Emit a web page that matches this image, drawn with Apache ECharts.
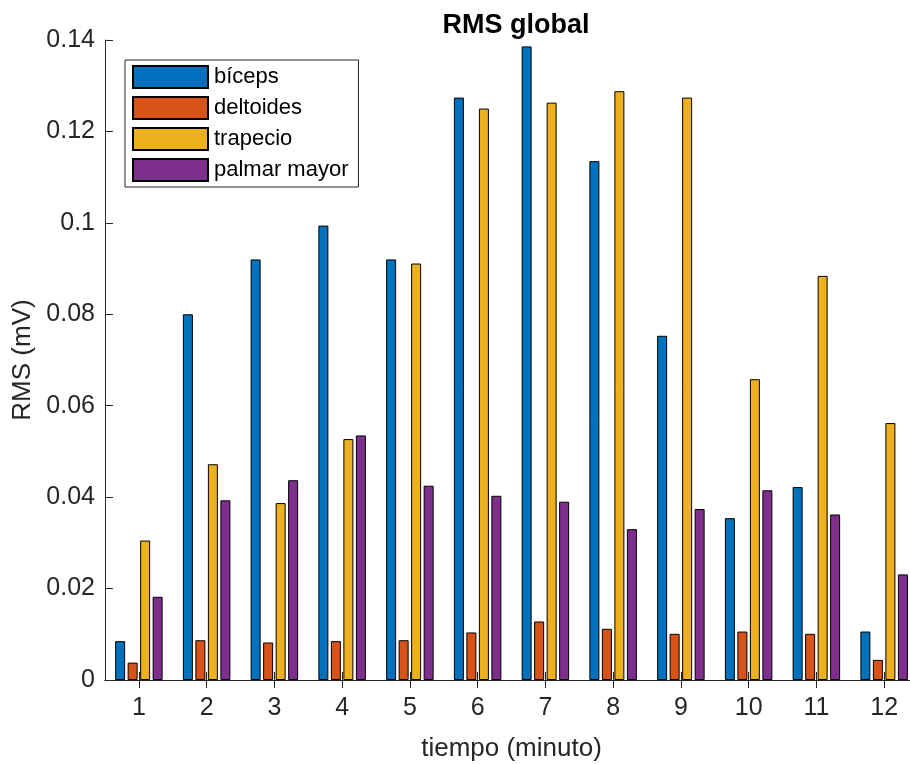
<!DOCTYPE html>
<html>
<head>
<meta charset="utf-8">
<script src="https://cdn.jsdelivr.net/npm/echarts@6/dist/echarts.min.js"></script>
<style>html,body{margin:0;padding:0;background:#fff}#c{width:910px;height:764px}</style>
</head>
<body>
<div id="c"></div>
<script>
const categories = ['1','2','3','4','5','6','7','8','9','10','11','12'];
const seriesNames = ['bíceps','deltoides','trapecio','palmar mayor'];
const biceps = [0.0085,0.0800,0.0920,0.0994,0.0920,0.1274,0.1386,0.1135,0.0753,0.0354,0.0422,0.0106];
const deltoides = [0.0038,0.0087,0.0082,0.0085,0.0087,0.0104,0.0128,0.0112,0.0101,0.0106,0.0101,0.0044];
const trapecio = [0.0305,0.0472,0.0387,0.0527,0.0911,0.1250,0.1263,0.1288,0.1274,0.0658,0.0884,0.0562];
const palmarMayor = [0.0182,0.0393,0.0437,0.0535,0.0425,0.0403,0.0390,0.0330,0.0374,0.0415,0.0362,0.0231];
const yTicks = [0,0.02,0.04,0.06,0.08,0.1,0.12,0.14];
const colors = ['#0072BD','#D95319','#EDB120','#7E2F8E'];
const values = [biceps, deltoides, trapecio, palmarMayor];

const FONT = "'Liberation Sans', Arial, sans-serif";
const AX = '#262626';
const chart = echarts.init(document.getElementById('c'), null, {renderer:'canvas'});
chart.setOption({
  animation:false,
  backgroundColor:'#fff',
  title:{text:'RMS global', left:511, top:7, textAlign:'center',
    textStyle:{fontFamily:FONT, fontSize:27, fontWeight:'bold', color:'#000'}},
  legend:{
    left:125, top:60, orient:'vertical',
    data:seriesNames,
    icon:'rect', itemWidth:75, itemHeight:22, itemGap:7,
    padding:[5,10,5,7],
    backgroundColor:'#fff', borderColor:'#262626', borderWidth:1, borderRadius:0,
    textStyle:{fontFamily:FONT, fontSize:22, lineHeight:21, color:'#000', padding:[0,0,0,1]}
  },
  grid:{left:105, top:40, width:813, height:640, containLabel:false, outerBoundsMode:'none'},
  xAxis:[{
    type:'category', data:categories, position:'bottom',
    name:'tiempo (minuto)', nameLocation:'middle', nameGap:56,
    nameTextStyle:{fontFamily:FONT, fontSize:26, color:'#262626'},
    axisLine:{show:true, lineStyle:{color:AX, width:1}},
    axisTick:{show:true, inside:true, length:8, alignWithLabel:true, lineStyle:{color:AX}},
    axisLabel:{fontFamily:FONT, fontSize:25, color:'#262626', margin:16},
    splitLine:{show:false}
  },{
    type:'category', data:categories, position:'top',
    axisLine:{show:true, lineStyle:{color:AX, width:1}},
    axisTick:{show:true, inside:true, length:8, alignWithLabel:true, lineStyle:{color:AX}},
    axisLabel:{show:false}, splitLine:{show:false}
  }],
  yAxis:[{
    type:'value', min:0, max:0.14, interval:0.02, position:'left',
    name:'RMS (mV)', nameLocation:'middle', nameGap:68, nameRotate:90,
    nameTextStyle:{fontFamily:FONT, fontSize:26, color:'#262626'},
    axisLine:{show:true, lineStyle:{color:AX, width:1}},
    axisTick:{show:true, inside:true, length:8, lineStyle:{color:AX}},
    axisLabel:{fontFamily:FONT, fontSize:25, color:'#262626', margin:10,
      formatter:function(v){ const t = yTicks.find(x=>Math.abs(x-v)<1e-9); return String(t!==undefined?t:+v.toFixed(2)); }},
    splitLine:{show:false}
  },{
    type:'value', min:0, max:0.14, interval:0.02, position:'right',
    axisLine:{show:true, lineStyle:{color:AX, width:1}},
    axisTick:{show:true, inside:true, length:8, lineStyle:{color:AX}},
    axisLabel:{show:false}, splitLine:{show:false}
  }],
  series: seriesNames.map((n,i)=>({
    name:n, type:'bar', data:values[i], xAxisIndex:0, yAxisIndex:0,
    barWidth:10, barGap:'25%',
    itemStyle:{color:colors[i], borderColor:'#000', borderWidth:1}
  }))
});
</script>
</body>
</html>
